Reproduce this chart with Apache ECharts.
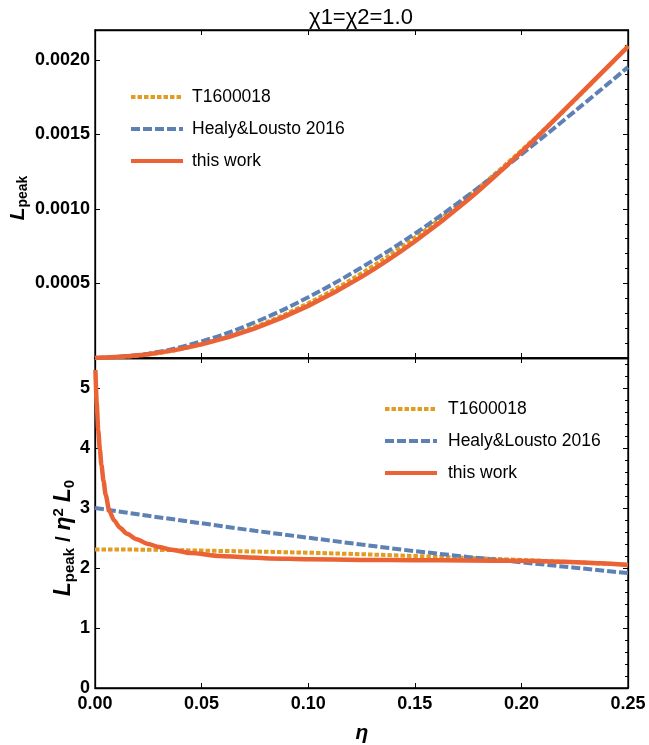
<!DOCTYPE html>
<html><head><meta charset="utf-8">
<script src="https://cdn.jsdelivr.net/npm/echarts@6/dist/echarts.min.js"></script>
<style>html,body{margin:0;padding:0;background:#fff}#c{width:649px;height:745px}</style>
</head><body><div id="c"></div>
<script>
// ---- data ----
const seriesNames = ['T1600018', 'Healy&Lousto 2016', 'this work'];
const titleText = 'χ1=χ2=1.0';

// top panel: L_peak vs eta
const etaTop = [0, 0.025, 0.05, 0.075, 0.1, 0.125, 0.15, 0.175, 0.2, 0.225, 0.25];
const lpeakT1600018 = [0, 0.0000235, 0.0000933, 0.0002086, 0.0003676, 0.000568, 0.000807, 0.0010833, 0.001392, 0.0017288, 0.0020936];
const lpeakHealy    = [0, 0.0000292, 0.0001119, 0.0002398, 0.0004075, 0.0006075, 0.0008344, 0.0010908, 0.0013659, 0.0016545, 0.001951];
const lpeakThisWork = [0, 0.0000245, 0.0000911, 0.000199, 0.0003496, 0.0005438, 0.0007812, 0.0010608, 0.0013822, 0.001733, 0.0020885];

// bottom panel: L_peak / (eta^2 L0) vs eta
const etaRatio = [0, 0.025, 0.05, 0.075, 0.1, 0.125, 0.15, 0.175, 0.2, 0.225, 0.25];
const ratioT1600018 = [2.31, 2.305, 2.29, 2.275, 2.255, 2.23, 2.2, 2.17, 2.135, 2.095, 2.055];
const ratioHealy    = [3.0, 2.87, 2.745, 2.62, 2.505, 2.39, 2.28, 2.185, 2.095, 2.005, 1.915];
const etaRatioThisWork = [0.0002, 0.0008, 0.0015, 0.0023, 0.003, 0.004, 0.005, 0.0067, 0.009, 0.0117, 0.015, 0.0195, 0.025, 0.03, 0.035, 0.045, 0.0586, 0.07, 0.082, 0.1, 0.125, 0.15, 0.175, 0.2, 0.22, 0.237, 0.25];
const ratioThisWork    = [5.3, 4.75, 4.3, 3.97, 3.72, 3.45, 3.22, 2.95, 2.79, 2.67, 2.57, 2.48, 2.40, 2.35, 2.31, 2.25, 2.2, 2.18, 2.16, 2.145, 2.135, 2.13, 2.125, 2.12, 2.105, 2.08, 2.05];

const xTickLabels = ['0.00', '0.05', '0.10', '0.15', '0.20', '0.25'];
const topYTickLabels = ['0.0005', '0.0010', '0.0015', '0.0020'];
const bottomYTickLabels = ['0', '1', '2', '3', '4', '5'];

// ---- styling ----
const FONT = '"Liberation Sans", Arial, Helvetica, sans-serif';
const colors = ['#E19C24', '#5E81B5', '#EB6235'];
const lineStyles = [
  { color: colors[0], width: 4, type: [4.5, 2] },
  { color: colors[1], width: 4, type: [9, 3] },
  { color: colors[2], width: 4.5, type: 'solid' }
];
const zip = (xs, ys) => xs.map((x, i) => [x, ys[i]]);

const axisLine = { show: true, onZero: false, lineStyle: { color: '#000', width: 1.3 } };
const labelStyle = { color: '#000', fontFamily: FONT, fontWeight: 'bold', fontSize: 18 };

function xAx(grid, pos, labels) {
  return {
    type: 'value', gridIndex: grid, position: pos, min: 0, max: 0.25, interval: 0.05,
    axisLine, splitLine: { show: false },
    axisTick: { show: true, inside: true, length: 5, lineStyle: { color: '#000', width: 1 } },
    axisLabel: labels ? Object.assign({ show: true, margin: 7,
      formatter: v => { const s = v.toFixed(2); return xTickLabels.includes(s) ? s : ''; } }, labelStyle) : { show: false }
  };
}
function yAx(grid, pos, max, interval, fmt, minor) {
  return {
    type: 'value', gridIndex: grid, position: pos, min: 0, max, interval,
    axisLine, splitLine: { show: false },
    axisTick: { show: true, inside: true, length: 5, lineStyle: { color: '#000', width: 1 } },
    minorTick: { show: !!minor, splitNumber: 5, length: 3, lineStyle: { color: '#000', width: 1 } },
    axisLabel: fmt ? Object.assign({ show: true, margin: 5, showMaxLabel: false, formatter: fmt }, labelStyle) : { show: false }
  };
}

const topFmt = v => { const s = v.toFixed(4); return topYTickLabels.includes(s) ? s : ''; };
const botFmt = v => { const s = String(Math.round(v * 100) / 100); return bottomYTickLabels.includes(s) ? s : ''; };

const series = [];
const topData = [lpeakT1600018, lpeakHealy, lpeakThisWork];
const botData = [zip(etaRatio, ratioT1600018), zip(etaRatio, ratioHealy), zip(etaRatioThisWork, ratioThisWork)];
seriesNames.forEach((name, i) => {
  series.push({ name, type: 'line', xAxisIndex: 0, yAxisIndex: 0, data: zip(etaTop, topData[i]),
    showSymbol: false, symbol: 'none', smooth: 0.4, lineStyle: lineStyles[i], itemStyle: { color: colors[i] }, z: 2 + i, silent: true, animation: false });
});
seriesNames.forEach((name, i) => {
  series.push({ name, type: 'line', xAxisIndex: 2, yAxisIndex: 2, data: botData[i],
    showSymbol: false, symbol: 'none', smooth: i === 2 ? 0.25 : false, smoothMonotone: i === 2 ? 'x' : undefined,
    lineStyle: lineStyles[i], itemStyle: { color: colors[i] }, z: 2 + i, silent: true, animation: false });
});

function legendAt(left, top, textPad) {
  return {
    orient: 'vertical', left, top, padding: 0, itemWidth: 52, itemHeight: 18, itemGap: 14,
    data: seriesNames, selectedMode: false,
    itemStyle: { opacity: 0, borderWidth: 0 },
    lineStyle: { width: 4 },
    textStyle: { color: '#000', fontFamily: FONT, fontSize: 17.5, padding: [0, 0, 0, textPad] }
  };
}

const chart = echarts.init(document.getElementById('c'), null, { renderer: 'canvas' });
chart.setOption({
  backgroundColor: '#fff',
  animation: false,
  grid: [
    { left: 95, top: 30, width: 533, height: 328, show: true, borderColor: '#000', borderWidth: 1.3, backgroundColor: 'transparent' },
    { left: 95, top: 358, width: 533, height: 330, show: true, borderColor: '#000', borderWidth: 1.3, backgroundColor: 'transparent' }
  ],
  xAxis: [xAx(0, 'bottom', false), xAx(0, 'top', false), xAx(1, 'bottom', true), xAx(1, 'top', false)],
  yAxis: [
    yAx(0, 'left', 0.0022, 0.0005, topFmt, false),
    yAx(0, 'right', 0.0022, 0.0005, null, true),
    yAx(1, 'left', 5.5, 1, botFmt, false),
    yAx(1, 'right', 5.5, 1, null, true)
  ],
  legend: [legendAt(129, 88, 4), legendAt(383, 400, 6)],
  graphic: [
    { type: 'text', x: 361, y: 18, style: { text: titleText, fill: '#000', font: '22px ' + FONT, align: 'center', verticalAlign: 'middle' } },
    { type: 'text', x: 18, y: 198, rotation: Math.PI / 2,
      style: { text: '{L|L}{s|peak}', align: 'center', verticalAlign: 'middle', fill: '#000',
        rich: { L: { fontFamily: FONT, fontWeight: 'bold', fontStyle: 'italic', fontSize: 21, lineHeight: 24, verticalAlign: 'middle' },
                s: { fontFamily: FONT, fontWeight: 'bold', fontSize: 14, lineHeight: 24, verticalAlign: 'bottom', padding: [6, 0, 0, 0] } } } },
    { type: 'text', x: 64, y: 538, rotation: Math.PI / 2,
      style: { text: '{L|L}{s|peak}{t| / }{L|η}{p|2}{t| }{L|L}{s|0}', align: 'center', verticalAlign: 'middle', fill: '#000',
        rich: { L: { fontFamily: FONT, fontWeight: 'bold', fontStyle: 'italic', fontSize: 23, lineHeight: 26, verticalAlign: 'middle' },
                t: { fontFamily: FONT, fontWeight: 'bold', fontSize: 21, lineHeight: 26, verticalAlign: 'middle' },
                s: { fontFamily: FONT, fontWeight: 'bold', fontSize: 15, lineHeight: 26, verticalAlign: 'bottom', padding: [6, 0, 0, 0] },
                p: { fontFamily: FONT, fontWeight: 'bold', fontSize: 15, lineHeight: 26, verticalAlign: 'top', padding: [0, 0, 8, 0] } } } },
    { type: 'text', x: 362, y: 733, style: { text: 'η', fill: '#000', font: 'italic bold 21px ' + FONT, align: 'center', verticalAlign: 'middle' } }
  ],
  series
});
</script>
</body></html>
